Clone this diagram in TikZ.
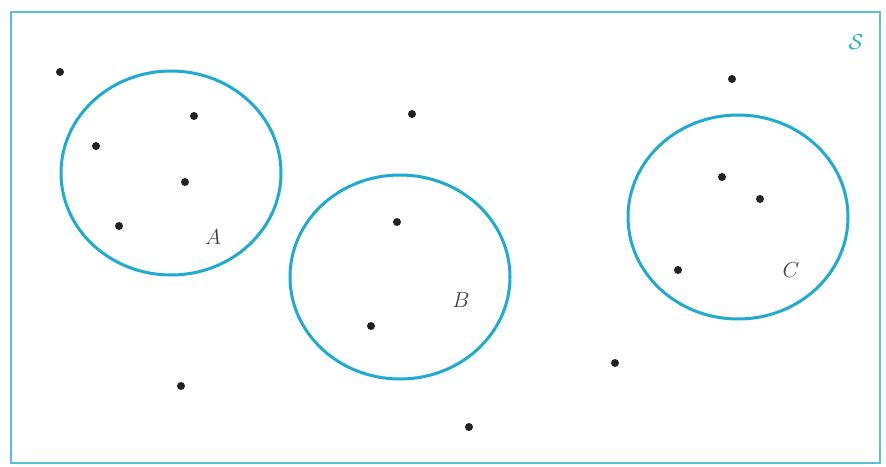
\documentclass[tikz,border=0pt]{standalone}
\usepackage{tikz}
\usetikzlibrary{shapes.geometric}
\definecolor{SetCyan}{HTML}{1FAAD2}
\definecolor{FrameCyan}{HTML}{5BBFD8}
\definecolor{PointDark}{HTML}{222222}

\begin{document}
\begin{tikzpicture}[
            x=1pt, y=-1pt,
            set/.style={
                    draw=SetCyan,
                    ellipse,
                    line width=3pt,
                    minimum width=220pt,
                    minimum height=204pt,
                    inner sep=0pt
                },
            pt/.style={circle, fill=PointDark, minimum size=8pt, inner sep=0pt},
            lbl/.style={font=\LARGE, scale=1.25, text=black!75},
        ]
        \useasboundingbox (0,0) rectangle (886,466);

        % sample space
        \draw[FrameCyan, line width=1.4pt] (11,12) rectangle (880,463);
        \node[lbl, text=SetCyan] (space) at (856,42) {$\mathcal{S}$};

        % events
        \node[set] (setA) at (171,173) {};
        \node[set] (setB) at (400,277) {};
        \node[set] (setC) at (738,217) {};

        \node[lbl] (labA) at (213,237) {$A$};
        \node[lbl] (labB) at (461,300) {$B$};
        \node[lbl] (labC) at (791,270) {$C$};

        % outcomes
        \foreach \px/\py [count=\i] in {60/72, 194/116, 96/146, 185/182, 119/226,
                412/114, 397/222, 371/326, 181/386, 469/427, 615/363,
                732/79, 722/177, 760/199, 678/270}
            \node[pt] (p\i) at (\px,\py) {};

    \end{tikzpicture}
\end{document}
